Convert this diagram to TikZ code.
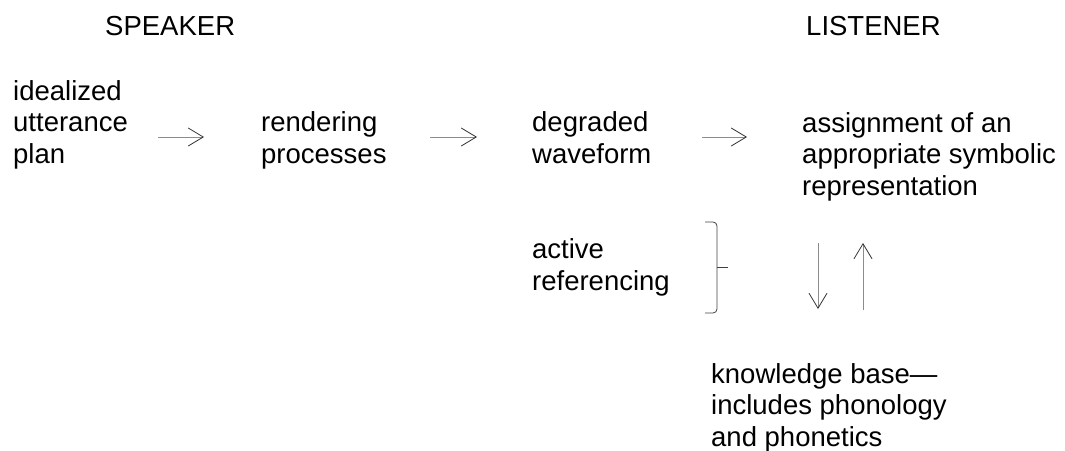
\documentclass[tikz,border=0pt]{standalone}
\usepackage{fontspec}
\setmainfont{Liberation Sans}
\usetikzlibrary{arrows.meta}
\tikzset{
    txt/.style   = {anchor=base west, inner sep=0pt, align=left,
                    font=\fontsize{27.5}{31.5}\selectfont},
    flow/.style  = {-{Straight Barb[length=15pt,width=18pt,line width=0.8pt,color=black!80]},
                    draw=black!45, line width=0.9pt},
    brace/.style = {draw=black!75, line width=0.8pt}
}

\begin{document}
\begin{tikzpicture}[x=1pt,y=-1pt]
    \useasboundingbox (0,0) rectangle (1065,450);

    % ---------- headings ----------
    \node[txt] (speaker)  at (105,35) {SPEAKER};
    \node[txt] (listener) at (806,35) {LISTENER};

    % =================================================
    % 1. Chain from plan to symbolic representation
    %    (base anchor sits on the last line of each block)
    % =================================================
    \node[txt] (plan)   at (13,163)  {idealized\\utterance\\plan};
    \node[txt] (render) at (261,163) {rendering\\processes};
    \node[txt] (wave)   at (532,163) {degraded\\waveform};
    \node[txt] (assign) at (802,195) {assignment of an\\appropriate symbolic\\representation};

    \coordinate (PlanOut)   at (158,137);
    \coordinate (RenderIn)  at (204,137);
    \coordinate (RenderOut) at (430,137);
    \coordinate (WaveIn)    at (477,137);
    \coordinate (WaveOut)   at (702,137);
    \coordinate (AssignIn)  at (747,137);

    \draw[flow] (PlanOut)   -- (RenderIn);
    \draw[flow] (RenderOut) -- (WaveIn);
    \draw[flow] (WaveOut)   -- (AssignIn);

    % =================================================
    % 2. Active referencing and the knowledge base
    % =================================================
    \node[txt] (active) at (532,290) {active\\referencing};

    % right brace next to the label
    \draw[brace] (705,222) -- (713,222) to[out=0,in=90] (717,226)
                 -- (717,309) to[out=-90,in=0] (713,313) -- (705,313);
    \draw[brace] (717,267) -- (728,267);

    \node[txt] (kb) at (711,446) {knowledge base—\\includes phonology\\and phonetics};

    \coordinate (DownTop) at (818,243);
    \coordinate (DownEnd) at (818,309);
    \coordinate (UpBot)   at (863,310);
    \coordinate (UpEnd)   at (863,243);

    \draw[flow] (DownTop) -- (DownEnd);
    \draw[flow] (UpBot)   -- (UpEnd);

\end{tikzpicture}
\end{document}
